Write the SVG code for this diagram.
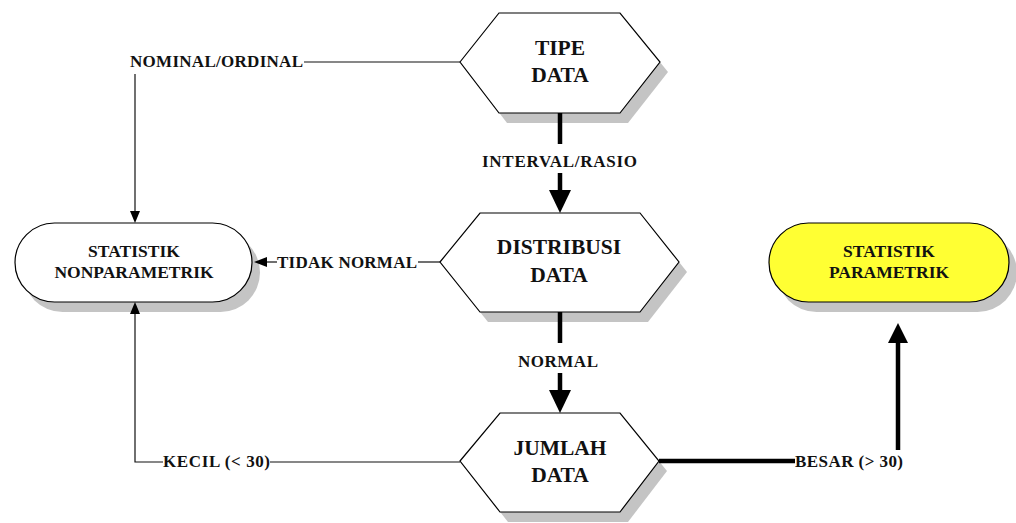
<svg xmlns="http://www.w3.org/2000/svg" width="1016" height="523" viewBox="0 0 1016 523">
<style>
  .shadow { fill: #c4c4c4; }
  .node { fill: #ffffff; stroke: #000; stroke-width: 1.2; }
  .param { fill: #ffff33; stroke: #000; stroke-width: 1.2; }
  .big { font-family: "Liberation Serif", "Times New Roman", serif; font-weight: bold; font-size: 21.5px; fill: #111; text-anchor: middle; }
  .mid { font-family: "Liberation Serif", "Times New Roman", serif; font-weight: bold; font-size: 17.5px; fill: #111; text-anchor: middle; }
  .lbl { font-family: "Liberation Serif", "Times New Roman", serif; font-weight: bold; font-size: 17px; fill: #111; }
  .thin { fill: none; stroke: #111; stroke-width: 1.2; }
  .thick { fill: none; stroke: #000; stroke-width: 4.5; }
  .head { fill: #000; }
</style>
<rect width="1016" height="523" fill="#ffffff"/>

<g id="tipe-data">
  <polygon class="shadow" points="468,72 507,23 628,23 668,72 628,123 507,123"/>
  <polygon class="node" points="460,62 499,13 620,13 660,62 620,113 499,113"/>
  <text class="big" x="560" y="55">TIPE</text>
  <text class="big" x="560" y="82">DATA</text>
</g>

<g id="distribusi-data">
  <polygon class="shadow" points="448,272 488,223 648,223 687,272 648,322 488,322"/>
  <polygon class="node" points="440,262 480,213 640,213 679,262 640,312 480,312"/>
  <text class="big" x="559" y="254">DISTRIBUSI</text>
  <text class="big" x="559" y="282">DATA</text>
</g>

<g id="jumlah-data">
  <polygon class="shadow" points="468,471 508,423 628,423 667,471 628,522 508,522"/>
  <polygon class="node" points="460,461 500,413 620,413 659,461 620,512 500,512"/>
  <text class="big" x="560" y="455">JUMLAH</text>
  <text class="big" x="560" y="482">DATA</text>
</g>

<g id="statistik-nonparametrik">
  <rect class="shadow" x="23" y="233" width="237" height="79" rx="39.5"/>
  <rect class="node" x="15" y="223" width="237" height="79" rx="39.5"/>
  <text class="mid" x="134" y="257">STATISTIK</text>
  <text class="mid" x="134" y="278">NONPARAMETRIK</text>
</g>

<g id="statistik-parametrik">
  <rect class="shadow" x="777" y="233" width="240" height="79" rx="39.5"/>
  <rect class="param" x="769" y="223" width="240" height="79" rx="39.5"/>
  <text class="mid" x="889" y="257">STATISTIK</text>
  <text class="mid" x="889" y="278">PARAMETRIK</text>
</g>

<g id="connectors">
  <!-- NOMINAL/ORDINAL -->
  <line class="thin" x1="460" y1="62" x2="304" y2="62"/>
  <line class="thin" x1="135" y1="74" x2="135" y2="212"/>
  <polygon class="head" points="130,211 140,211 135,223"/>
  <text class="lbl" x="130" y="67" textLength="173">NOMINAL/ORDINAL</text>

  <!-- INTERVAL/RASIO -->
  <line class="thick" x1="560" y1="113" x2="560" y2="144"/>
  <line class="thick" x1="560" y1="173" x2="560" y2="191"/>
  <polygon class="head" points="549,190 571,190 560,213"/>
  <text class="lbl" x="482" y="167" textLength="155">INTERVAL/RASIO</text>

  <!-- TIDAK NORMAL -->
  <line class="thin" x1="440" y1="262" x2="418" y2="262"/>
  <line class="thin" x1="277" y1="262" x2="266" y2="262"/>
  <polygon class="head" points="267,257 267,267 254,262"/>
  <text class="lbl" x="277" y="268" textLength="140">TIDAK NORMAL</text>

  <!-- NORMAL -->
  <line class="thick" x1="560" y1="312" x2="560" y2="343"/>
  <line class="thick" x1="560" y1="373" x2="560" y2="391"/>
  <polygon class="head" points="549,390 571,390 560,413"/>
  <text class="lbl" x="518" y="367" textLength="80">NORMAL</text>

  <!-- KECIL (< 30) -->
  <line class="thin" x1="460" y1="462" x2="270" y2="462"/>
  <polyline class="thin" points="163,462 135,462 135,313"/>
  <polygon class="head" points="130,314 140,314 135,302"/>
  <text class="lbl" x="163" y="467" textLength="107">KECIL (&lt; 30)</text>

  <!-- BESAR (> 30) -->
  <line class="thick" x1="659" y1="461" x2="795" y2="461"/>
  <line class="thick" x1="898" y1="450" x2="898" y2="342"/>
  <polygon class="head" points="888,343 908,343 898,323"/>
  <text class="lbl" x="795" y="467" textLength="108">BESAR (&gt; 30)</text>
</g>
</svg>
